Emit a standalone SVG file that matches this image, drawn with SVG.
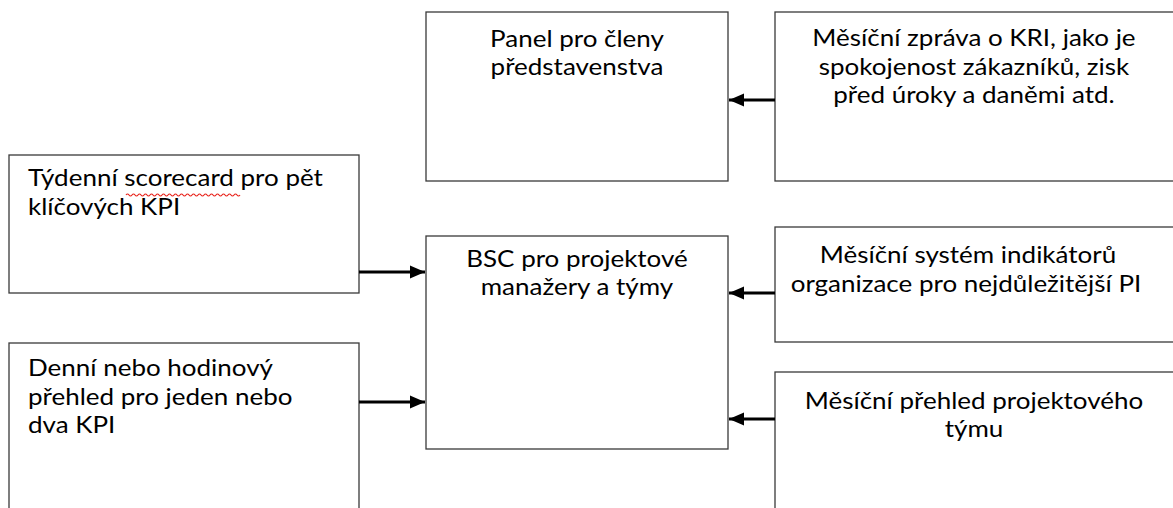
<svg xmlns="http://www.w3.org/2000/svg" width="1173" height="508" viewBox="0 0 1173 508">
  <style>
    .box { fill: #ffffff; stroke: #3a3a3a; stroke-width: 1.3; }
    .lbl { font-family: Lato, "Open Sans", sans-serif; font-size: 23px; fill: #000000;
           transform-box: fill-box; transform: scaleX(1.13); }
    .mid { text-anchor: middle; transform-origin: center; }
    .left { transform-origin: left center; }
    .link { stroke: #000000; stroke-width: 3; fill: none; marker-end: url(#head); }
    .squiggle { stroke: #e8231c; stroke-width: 1.2; fill: none; }
  </style>
  <defs>
    <marker id="head" markerWidth="5" markerHeight="4.4" refX="5" refY="2.2" orient="auto" markerUnits="strokeWidth">
      <path d="M0,0 L5,2.2 L0,4.4 Z" fill="#000000"/>
    </marker>
  </defs>

  <rect width="1173" height="508" fill="#ffffff"/>

  <g id="node-panel">
    <rect class="box" x="426" y="12" width="302" height="169"/>
    <text class="lbl mid" x="577" y="47">Panel pro členy</text>
    <text class="lbl mid" x="577" y="75">představenstva</text>
  </g>

  <g id="node-kri">
    <rect class="box" x="775" y="12" width="410" height="169"/>
    <text class="lbl mid" x="974" y="46">Měsíční zpráva o KRI, jako je</text>
    <text class="lbl mid" x="974" y="75">spokojenost zákazníků, zisk</text>
    <text class="lbl mid" x="974" y="103">před úroky a daněmi atd.</text>
  </g>

  <g id="node-weekly">
    <rect class="box" x="9" y="155" width="350" height="138"/>
    <text class="lbl left" x="28" y="186">Týdenní scorecard pro pět</text>
    <text class="lbl left" x="28" y="215">klíčových KPI</text>
    <!-- spell-check underline beneath "scorecard" -->
    <path class="squiggle" d="M126,195 q1.5,-2 3,0 t3,0 t3,0 t3,0 t3,0 t3,0 t3,0 t3,0 t3,0 t3,0 t3,0 t3,0 t3,0 t3,0 t3,0 t3,0 t3,0 t3,0 t3,0 t3,0 t3,0 t3,0 t3,0 t3,0 t3,0 t3,0 t3,0 t3,0 t3,0 t3,0 t3,0 t3,0 t3,0 t3,0 t3,0 t3,0 t3,0 t3,0"/>
  </g>

  <g id="node-bsc">
    <rect class="box" x="426" y="236" width="302" height="213"/>
    <text class="lbl mid" x="577" y="267">BSC pro projektové</text>
    <text class="lbl mid" x="577" y="295">manažery a týmy</text>
  </g>

  <g id="node-indicators">
    <rect class="box" x="775" y="227" width="410" height="115"/>
    <text class="lbl mid" x="968" y="263">Měsíční systém indikátorů</text>
    <text class="lbl mid" x="966" y="292">organizace pro nejdůležitější PI</text>
  </g>

  <g id="node-daily">
    <rect class="box" x="9" y="343" width="350" height="180"/>
    <text class="lbl left" x="28" y="376">Denní nebo hodinový</text>
    <text class="lbl left" x="28" y="405">přehled pro jeden nebo</text>
    <text class="lbl left" x="28" y="433">dva KPI</text>
  </g>

  <g id="node-team">
    <rect class="box" x="775" y="372" width="410" height="150"/>
    <text class="lbl mid" x="974" y="409">Měsíční přehled projektového</text>
    <text class="lbl mid" x="974" y="437">týmu</text>
  </g>

  <g id="connectors">
    <line class="link" x1="775" y1="100" x2="729" y2="100"/>
    <line class="link" x1="359" y1="272" x2="425" y2="272"/>
    <line class="link" x1="359" y1="402" x2="425" y2="402"/>
    <line class="link" x1="775" y1="293" x2="729" y2="293"/>
    <line class="link" x1="775" y1="419" x2="729" y2="419"/>
  </g>
</svg>
